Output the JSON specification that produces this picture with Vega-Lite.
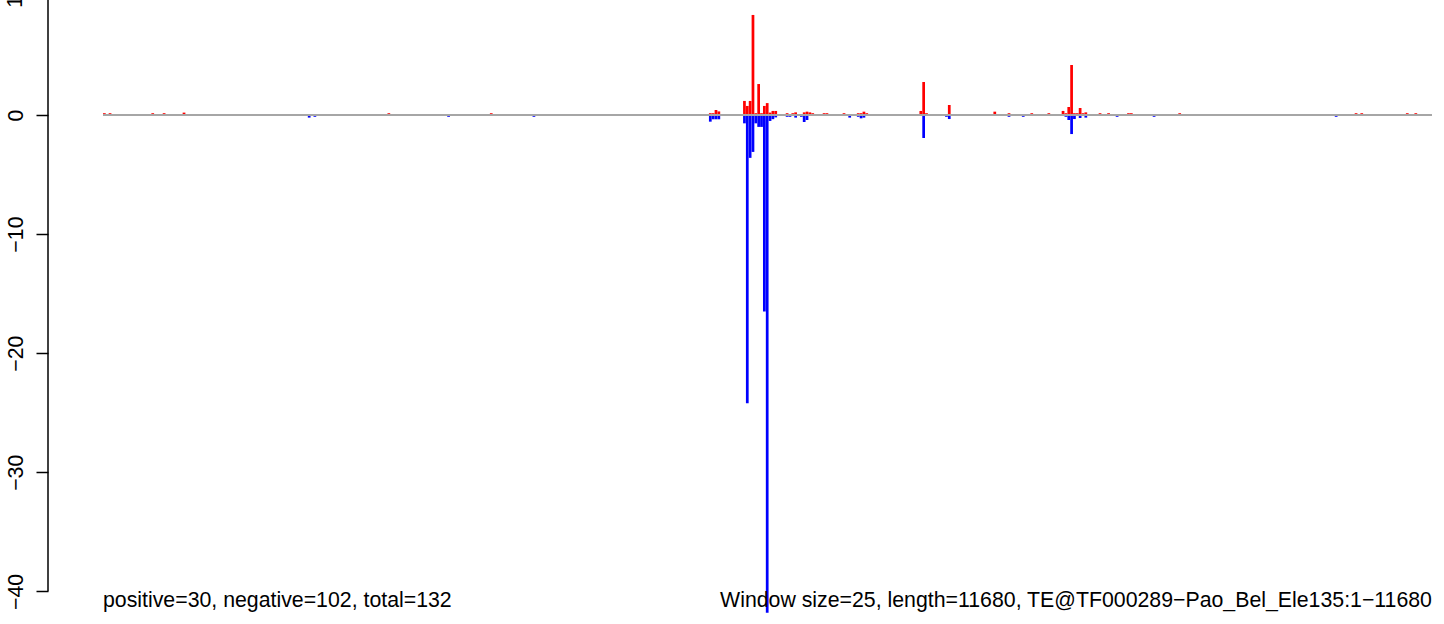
{
  "$schema": "https://vega.github.io/schema/vega-lite/v6.json",
  "width": 1396,
  "height": 624,
  "autosize": {"type": "none"},
  "padding": {"left": 48, "top": 0, "right": 0, "bottom": 0},
  "background": "white",
  "config": {"view": {"stroke": null}, "font": "Liberation Sans"},
  "datasets": {
    "bars": [
      {"start": 1, "end": 25, "value": 0.15, "strand": "+"},
      {"start": 51, "end": 75, "value": 0.15, "strand": "+"},
      {"start": 426, "end": 450, "value": 0.15, "strand": "+"},
      {"start": 526, "end": 550, "value": 0.15, "strand": "+"},
      {"start": 701, "end": 725, "value": 0.2, "strand": "+"},
      {"start": 1801, "end": 1825, "value": -0.22, "strand": "-"},
      {"start": 1851, "end": 1875, "value": -0.15, "strand": "-"},
      {"start": 2501, "end": 2525, "value": 0.15, "strand": "+"},
      {"start": 3026, "end": 3050, "value": -0.15, "strand": "-"},
      {"start": 3401, "end": 3425, "value": 0.15, "strand": "+"},
      {"start": 3776, "end": 3800, "value": -0.15, "strand": "-"},
      {"start": 5326, "end": 5350, "value": 0.15, "strand": "+"},
      {"start": 5326, "end": 5350, "value": -0.56, "strand": "-"},
      {"start": 5351, "end": 5375, "value": 0.15, "strand": "+"},
      {"start": 5351, "end": 5375, "value": -0.36, "strand": "-"},
      {"start": 5376, "end": 5400, "value": 0.42, "strand": "+"},
      {"start": 5376, "end": 5400, "value": -0.36, "strand": "-"},
      {"start": 5401, "end": 5425, "value": 0.3, "strand": "+"},
      {"start": 5401, "end": 5425, "value": -0.36, "strand": "-"},
      {"start": 5626, "end": 5650, "value": 1.18, "strand": "+"},
      {"start": 5626, "end": 5650, "value": -0.7, "strand": "-"},
      {"start": 5651, "end": 5675, "value": 0.76, "strand": "+"},
      {"start": 5651, "end": 5675, "value": -24.2, "strand": "-"},
      {"start": 5676, "end": 5700, "value": 1.18, "strand": "+"},
      {"start": 5676, "end": 5700, "value": -3.6, "strand": "-"},
      {"start": 5701, "end": 5725, "value": 8.4, "strand": "+"},
      {"start": 5701, "end": 5725, "value": -3.1, "strand": "-"},
      {"start": 5726, "end": 5750, "value": 0.15, "strand": "+"},
      {"start": 5726, "end": 5750, "value": -0.7, "strand": "-"},
      {"start": 5751, "end": 5775, "value": 2.6, "strand": "+"},
      {"start": 5751, "end": 5775, "value": -1.0, "strand": "-"},
      {"start": 5776, "end": 5800, "value": 0.15, "strand": "+"},
      {"start": 5776, "end": 5800, "value": -1.0, "strand": "-"},
      {"start": 5801, "end": 5825, "value": 0.76, "strand": "+"},
      {"start": 5801, "end": 5825, "value": -16.5, "strand": "-"},
      {"start": 5826, "end": 5850, "value": 1.0, "strand": "+"},
      {"start": 5826, "end": 5850, "value": -41.8, "strand": "-"},
      {"start": 5851, "end": 5875, "value": 0.2, "strand": "+"},
      {"start": 5851, "end": 5875, "value": -0.5, "strand": "-"},
      {"start": 5876, "end": 5900, "value": 0.34, "strand": "+"},
      {"start": 5876, "end": 5900, "value": -0.35, "strand": "-"},
      {"start": 5901, "end": 5925, "value": 0.34, "strand": "+"},
      {"start": 5901, "end": 5925, "value": -0.2, "strand": "-"},
      {"start": 6001, "end": 6025, "value": 0.15, "strand": "+"},
      {"start": 6001, "end": 6025, "value": -0.15, "strand": "-"},
      {"start": 6026, "end": 6050, "value": -0.15, "strand": "-"},
      {"start": 6051, "end": 6075, "value": 0.15, "strand": "+"},
      {"start": 6076, "end": 6100, "value": 0.22, "strand": "+"},
      {"start": 6076, "end": 6100, "value": -0.22, "strand": "-"},
      {"start": 6126, "end": 6150, "value": -0.15, "strand": "-"},
      {"start": 6151, "end": 6175, "value": 0.22, "strand": "+"},
      {"start": 6151, "end": 6175, "value": -0.59, "strand": "-"},
      {"start": 6176, "end": 6200, "value": 0.28, "strand": "+"},
      {"start": 6176, "end": 6200, "value": -0.42, "strand": "-"},
      {"start": 6201, "end": 6225, "value": 0.22, "strand": "+"},
      {"start": 6226, "end": 6250, "value": 0.15, "strand": "+"},
      {"start": 6326, "end": 6350, "value": 0.15, "strand": "+"},
      {"start": 6351, "end": 6375, "value": 0.15, "strand": "+"},
      {"start": 6501, "end": 6525, "value": 0.15, "strand": "+"},
      {"start": 6551, "end": 6575, "value": -0.22, "strand": "-"},
      {"start": 6626, "end": 6650, "value": 0.15, "strand": "+"},
      {"start": 6626, "end": 6650, "value": -0.15, "strand": "-"},
      {"start": 6651, "end": 6675, "value": 0.15, "strand": "+"},
      {"start": 6651, "end": 6675, "value": -0.28, "strand": "-"},
      {"start": 6676, "end": 6700, "value": 0.28, "strand": "+"},
      {"start": 6676, "end": 6700, "value": -0.22, "strand": "-"},
      {"start": 6701, "end": 6725, "value": 0.15, "strand": "+"},
      {"start": 7176, "end": 7200, "value": 0.34, "strand": "+"},
      {"start": 7201, "end": 7225, "value": 2.77, "strand": "+"},
      {"start": 7201, "end": 7225, "value": -1.93, "strand": "-"},
      {"start": 7226, "end": 7250, "value": 0.15, "strand": "+"},
      {"start": 7401, "end": 7425, "value": -0.15, "strand": "-"},
      {"start": 7426, "end": 7450, "value": 0.84, "strand": "+"},
      {"start": 7426, "end": 7450, "value": -0.34, "strand": "-"},
      {"start": 7826, "end": 7850, "value": 0.28, "strand": "+"},
      {"start": 7951, "end": 7975, "value": 0.15, "strand": "+"},
      {"start": 7951, "end": 7975, "value": -0.15, "strand": "-"},
      {"start": 8076, "end": 8100, "value": -0.15, "strand": "-"},
      {"start": 8151, "end": 8175, "value": 0.15, "strand": "+"},
      {"start": 8301, "end": 8325, "value": 0.15, "strand": "+"},
      {"start": 8426, "end": 8450, "value": 0.34, "strand": "+"},
      {"start": 8451, "end": 8475, "value": 0.15, "strand": "+"},
      {"start": 8451, "end": 8475, "value": -0.15, "strand": "-"},
      {"start": 8476, "end": 8500, "value": 0.67, "strand": "+"},
      {"start": 8476, "end": 8500, "value": -0.42, "strand": "-"},
      {"start": 8501, "end": 8525, "value": 4.2, "strand": "+"},
      {"start": 8501, "end": 8525, "value": -1.6, "strand": "-"},
      {"start": 8526, "end": 8550, "value": 0.15, "strand": "+"},
      {"start": 8526, "end": 8550, "value": -0.34, "strand": "-"},
      {"start": 8551, "end": 8575, "value": 0.15, "strand": "+"},
      {"start": 8576, "end": 8600, "value": 0.59, "strand": "+"},
      {"start": 8576, "end": 8600, "value": -0.25, "strand": "-"},
      {"start": 8601, "end": 8625, "value": 0.15, "strand": "+"},
      {"start": 8626, "end": 8650, "value": 0.22, "strand": "+"},
      {"start": 8626, "end": 8650, "value": -0.22, "strand": "-"},
      {"start": 8751, "end": 8775, "value": 0.15, "strand": "+"},
      {"start": 8826, "end": 8850, "value": 0.15, "strand": "+"},
      {"start": 8901, "end": 8925, "value": -0.15, "strand": "-"},
      {"start": 9001, "end": 9025, "value": 0.15, "strand": "+"},
      {"start": 9026, "end": 9050, "value": 0.15, "strand": "+"},
      {"start": 9226, "end": 9250, "value": -0.15, "strand": "-"},
      {"start": 9451, "end": 9475, "value": 0.15, "strand": "+"},
      {"start": 10826, "end": 10850, "value": -0.15, "strand": "-"},
      {"start": 11001, "end": 11025, "value": 0.15, "strand": "+"},
      {"start": 11051, "end": 11075, "value": 0.15, "strand": "+"},
      {"start": 11451, "end": 11475, "value": 0.15, "strand": "+"},
      {"start": 11526, "end": 11550, "value": 0.15, "strand": "+"}
    ]
  },
  "layer": [
    {
      "data": {"name": "bars"},
      "mark": {"type": "rect", "strokeWidth": 0},
      "encoding": {
        "x": {"field": "start", "type": "quantitative", "scale": {"domain": [-482.3, 11785.7], "nice": false, "zero": false}, "axis": null},
        "x2": {"field": "end"},
        "y": {
          "field": "value", "type": "quantitative",
          "scale": {"domain": [-42.74, 9.656], "nice": false, "zero": false},
          "axis": {
            "orient": "left", "values": [-40, -30, -20, -10, 0, 10], "format": "d",
            "domain": false, "grid": false, "title": null,
            "tickSize": 12, "tickColor": "black", "tickWidth": 1.5,
            "labelAngle": -90, "labelAlign": "center", "labelBaseline": "alphabetic",
            "labelPadding": 14, "labelFontSize": 21.3, "labelFont": "Liberation Sans",
            "labelColor": "black", "labelOverlap": false, "labelFlush": false, "labelBound": false
          }
        },
        "y2": {"datum": 0},
        "color": {"field": "strand", "type": "nominal", "scale": {"domain": ["+", "-"], "range": ["#ff0000", "#0000ff"]}, "legend": null}
      }
    },
    {
      "data": {"values": [{}]},
      "mark": {"type": "rule", "color": "#a6a6a6", "strokeWidth": 2},
      "encoding": {
        "x": {"datum": 1, "type": "quantitative"},
        "x2": {"datum": 11680},
        "y": {"datum": 0, "type": "quantitative"}
      }
    },
    {
      "data": {"values": [{}]},
      "mark": {"type": "rule", "color": "black", "strokeWidth": 1.5},
      "encoding": {
        "x": {"datum": -482.3, "type": "quantitative"},
        "y": {"datum": 10, "type": "quantitative"},
        "y2": {"datum": -40}
      }
    },
    {
      "data": {"values": [{}]},
      "mark": {"type": "text", "angle": -90, "align": "center", "baseline": "alphabetic", "fontSize": 21.3, "font": "Liberation Sans", "color": "black"},
      "encoding": {
        "x": {"datum": -713.4, "type": "quantitative"},
        "y": {"datum": 10, "type": "quantitative"},
        "text": {"value": "10"}
      }
    },
    {
      "data": {"values": [{}]},
      "mark": {"type": "text", "align": "left", "baseline": "alphabetic", "fontSize": 21.3, "font": "Liberation Sans", "color": "black"},
      "encoding": {
        "x": {"datum": 1, "type": "quantitative"},
        "y": {"datum": -41.35, "type": "quantitative"},
        "text": {"value": "positive=30, negative=102, total=132"}
      }
    },
    {
      "data": {"values": [{}]},
      "mark": {"type": "text", "align": "right", "baseline": "alphabetic", "fontSize": 21.3, "font": "Liberation Sans", "color": "black"},
      "encoding": {
        "x": {"datum": 11680, "type": "quantitative"},
        "y": {"datum": -41.35, "type": "quantitative"},
        "text": {"value": "Window size=25, length=11680, TE@TF000289−Pao_Bel_Ele135:1−11680"}
      }
    }
  ]
}
